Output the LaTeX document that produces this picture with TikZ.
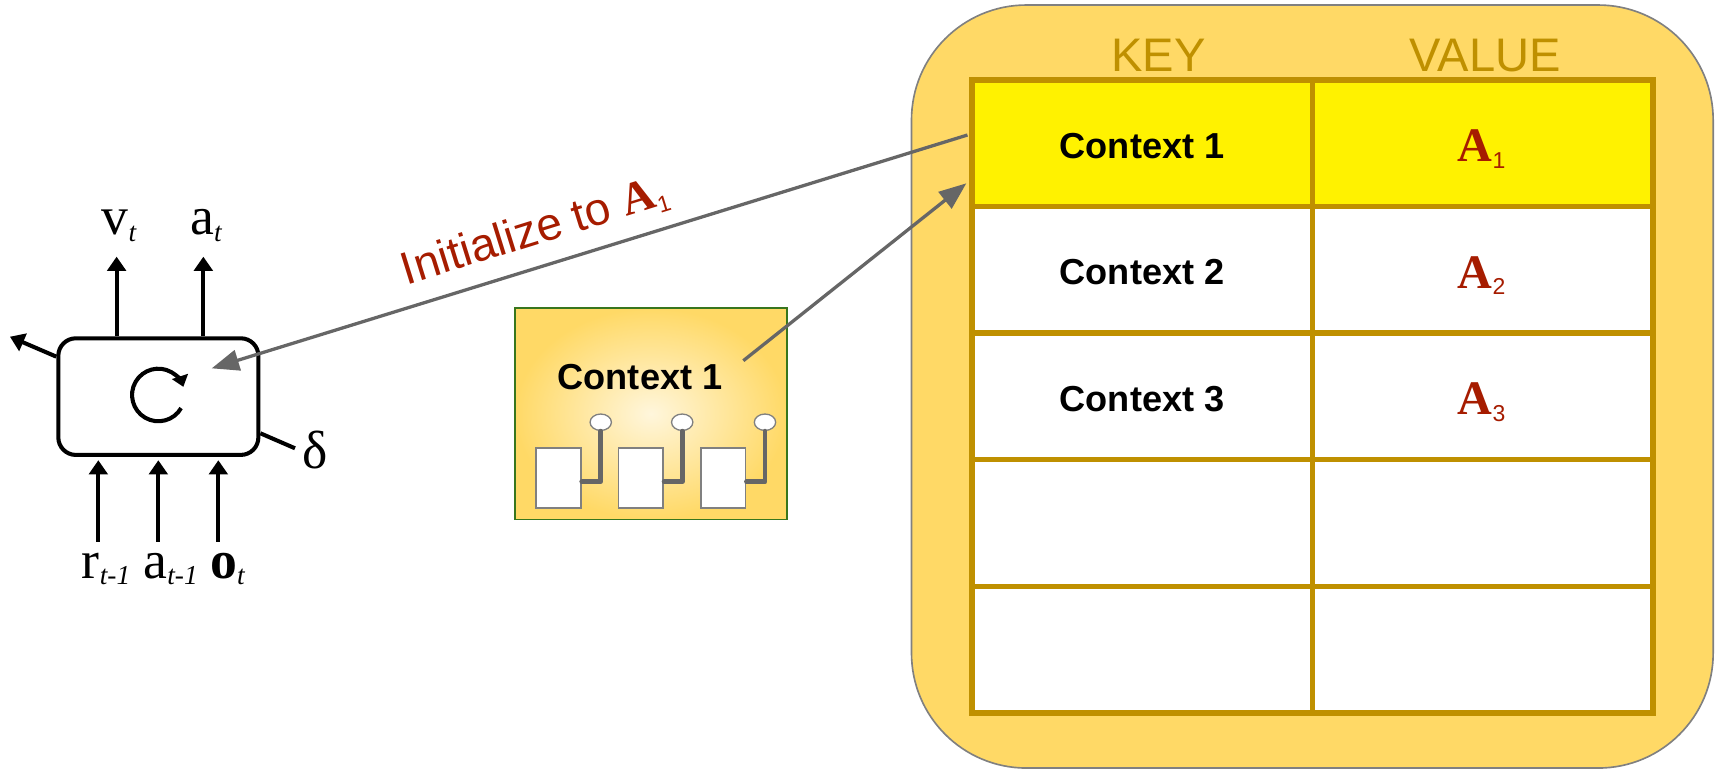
\documentclass[tikz,border=0pt]{standalone}
\usepackage{fontspec}
\setmainfont{Liberation Serif}
\setsansfont{Liberation Sans}
\usetikzlibrary{arrows.meta,calc,shapes.geometric}
\definecolor{gold}{HTML}{FFD966}
\definecolor{darkgold}{HTML}{BF9000}
\definecolor{brick}{HTML}{A61C00}
\definecolor{arrowgray}{HTML}{666666}
\definecolor{leaf}{HTML}{38761D}
\definecolor{cream}{HTML}{FFF6DC}
% bold serif A with a small sans index
\newcommand{\Aval}[1]{{\rmfamily\bfseries A}\raisebox{-6pt}{\sffamily\mdseries\fontsize{21}{21}\selectfont #1}}
% roman symbol with an italic index
\newcommand{\lowidx}[1]{\raisebox{-6pt}{\itshape\fontsize{25}{25}\selectfont #1}}

\begin{document}
\begin{tikzpicture}[x=1pt,y=1pt,>={Triangle[length=13pt,width=17pt]}]
 \tikzstyle{cell} = [draw=darkgold,line width=5pt,minimum width=311pt,minimum height=115.6pt,inner sep=0pt]
 \tikzstyle{keytext} = [font=\sffamily\bfseries\fontsize{33}{33}\selectfont,anchor=base]
 \tikzstyle{valtext} = [font=\fontsize{44}{44}\selectfont,text=brick,anchor=base]
 \tikzstyle{headtext} = [font=\sffamily\fontsize{43}{43}\selectfont,text=darkgold,anchor=base]
 \tikzstyle{sym} = [font=\fontsize{49}{49}\selectfont,anchor=base west,inner sep=0pt]
 \tikzstyle{blk} = [line width=3.7pt]
 \tikzstyle{grayarrow} = [draw=arrowgray,line width=3pt,-{Triangle[length=25pt,width=19pt]}]
 \tikzstyle{wire} = [draw=arrowgray,line width=4.3pt,line cap=round,line join=round]
 \newcommand{\rowh}{115.6}

 \useasboundingbox (0,0) rectangle (1568,704);

 % memory: rounded frame with the key/value table
 \draw[fill=gold,draw=gray,line width=1.5pt,rounded corners=105pt] (832.4,2.6) rectangle (1564.5,699.4);
 \node[headtext] (keyhead) at (1058,638.5) {KEY};
 \node[headtext] (valhead) at (1356.5,638.5) {VALUE};

 \foreach \r/\f/\k/\v in {1/yellow/Context 1/\Aval{1},2/white/Context 2/\Aval{2},3/white/Context 3/\Aval{3},4/white//,5/white//} {
  \node[cell,fill=\f] (k\r) at (1043,{573.2-\rowh*(\r-1)}) {};
  \node[cell,fill=\f] (v\r) at (1354,{573.2-\rowh*(\r-1)}) {};
  \node[keytext] at ($(k\r)+(0,-13.8)$) {\k};
  \node[valtext] at ($(v\r)+(-1,-16.8)$) {\v};
 }

 % context snapshot
 \node[draw=leaf,line width=1.5pt,inner color=cream,outer color=gold,minimum width=248.4pt,minimum height=193pt] (ctx) at (594.5,326.2) {};
 \node[font=\sffamily\bfseries\fontsize{33}{33}\selectfont] (ctxlbl) at (584.5,360) {Context 1};
 \foreach \i/\bx/\cx in {1/510/548.6,2/585.2/623,3/660.4/698.6} {
  \node[draw=gray,line width=1.5pt,fill=white,minimum width=41pt,minimum height=55pt,inner sep=0pt] (reg\i) at (\bx,267.6) {};
  \node[draw=gray,line width=1.2pt,fill=white,ellipse,minimum width=19.5pt,minimum height=15pt,inner sep=0pt] (pin\i) at (\cx,318.4) {};
  \draw[wire] (reg\i.east |- 0,264) -| (pin\i.south);
 }

 % recurrent cell
 \node[draw,blk,rounded corners=16pt,minimum width=182.7pt,minimum height=106.5pt] (rnn) at (144.6,341.8) {};
 \draw[blk,-{Triangle[length=10pt,width=15pt]}] (144.6,343.3) ++(-30:24) arc[start angle=-30,end angle=-342,radius=24];

 \node[sym] (vt) at (92.8,489.4) {v\lowidx{t}};
 \node[sym] (at) at (173.5,489.4) {a\lowidx{t}};
 \coordinate (vtip) at (106.5,469.6);
 \coordinate (atip) at (185.7,469.6);
 \draw[blk,->] (rnn.north -| vtip) -- (vtip);
 \draw[blk,->] (rnn.north -| atip) -- (atip);

 \coordinate (hout) at (9.1,396.5);
 \draw[blk,->] ($(rnn.west)+(0,36.5)$) -- (hout);

 \node[font=\fontsize{49}{49}\selectfont,inner sep=0pt] (delta) at (288,293) {δ};
 \coordinate (dend) at (269.4,294.6);
 \draw[blk] ($(rnn.east)+(0,-33.5)$) -- (dend);

 \node[sym] (rlbl) at (74.6,176) {r\lowidx{t-1}};
 \node[sym] (albl) at (130.9,176) {a\lowidx{t-1}};
 \node[sym] (olbl) at (191.8,176) {\textbf{o}\lowidx{t}};
 \foreach \n/\x in {rin/89.8,ain/144.6,oin/199.4} {
  \coordinate (\n) at (\x,209.3);
  \draw[blk,->,shorten >=3pt] (\n) -- (\n |- rnn.south);
 }

 % read and write links
 \coordinate (cellin) at (193.3,367.6);
 \coordinate (ctxout) at (678.8,374.6);
 \draw[grayarrow] ($(k1.west)+(-1.5,7.5)$) -- (cellin);
 \draw[grayarrow] (ctxout) -- ($(k1.west)+(-2.5,-36.6)$);
 \node[anchor=base,rotate=17.3,text=brick,font=\sffamily\fontsize{42}{42}\selectfont] (initlbl) at (492,481) {Initialize to \Aval{1}};

\end{tikzpicture}
\end{document}
